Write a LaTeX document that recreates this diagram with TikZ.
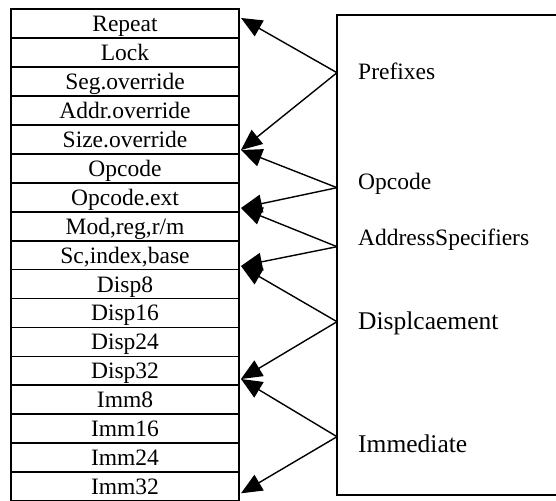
\documentclass[tikz,border=0pt]{standalone}
\usepackage{fontspec}
\setmainfont{Liberation Serif}
\usetikzlibrary{arrows.meta}
\begin{document}
\begin{tikzpicture}[x=1pt,y=-1pt,
  rowbox/.style={draw,line width=1.8pt,minimum width=228pt,minimum height=28.95pt,
    inner sep=0pt,outer sep=0pt,anchor=north west,text height=16pt,text depth=0pt,
    font=\fontsize{23.5}{26}\selectfont},
  bigbox/.style={draw,line width=1.5pt,minimum width=240pt,minimum height=480pt,
    inner sep=0pt,outer sep=0pt,anchor=north west},
  lbl/.style={anchor=base west,inner sep=0pt,font=\fontsize{23.5}{26}\selectfont},
  lblbig/.style={anchor=base west,inner sep=0pt,font=\fontsize{25.5}{28}\selectfont},
  arr/.style={-{Triangle[length=21pt,width=18pt]},line width=1.4pt}]
\clip (0,0) rectangle (556,500);
\fill[white] (0,0) rectangle (556,500);
% left column
\foreach \t [count=\i from 0] in {Repeat,Lock,Seg.override,Addr.override,Size.override,Opcode,Opcode.ext,{Mod,reg,r/m},{Sc,index,base},Disp8,Disp16,Disp24,Disp32,Imm8,Imm16,Imm24,Imm32}{
  \node[rowbox] (r\i) at (11,{9+28.95*\i}) {\t};
}
% right box
\node[bigbox] (big) at (337,15) {};
\node[lbl] (lPre) at (358,79.3) {Prefixes};
\node[lbl] (lOp) at (358,189.3) {Opcode};
\node[lbl] (lAddr) at (358,245) {AddressSpecifiers};
\node[lblbig] (lDisp) at (358,329.3) {Displcaement};
\node[lblbig] (lImm) at (358,452.7) {Immediate};
% sources on the box edge
\coordinate (sPre) at (337,72.7);
\coordinate (sOp) at (337,187.7);
\coordinate (sAddr) at (337,246.7);
\coordinate (sDisp) at (337,321.7);
\coordinate (sImm) at (337,436.7);
% tips next to rows
\coordinate (tRep) at (241,18);
\coordinate (tSize) at (241,150);
\coordinate (tExt) at (241,208);
\coordinate (tSc) at (241,266);
\coordinate (tD32) at (241,379);
\coordinate (tI32) at (241,493.3);
\draw[arr] (sPre) -- (tRep);
\draw[arr] (sPre) -- (tSize);
\draw[arr] (sOp) -- (tSize);
\draw[arr] (sOp) -- (tExt);
\draw[arr] (sAddr) -- (tExt);
\draw[arr] (sAddr) -- (tSc);
\draw[arr] (sDisp) -- (tSc);
\draw[arr] (sDisp) -- (tD32);
\draw[arr] (sImm) -- (tD32);
\draw[arr] (sImm) -- (tI32);
\end{tikzpicture}
\end{document}
